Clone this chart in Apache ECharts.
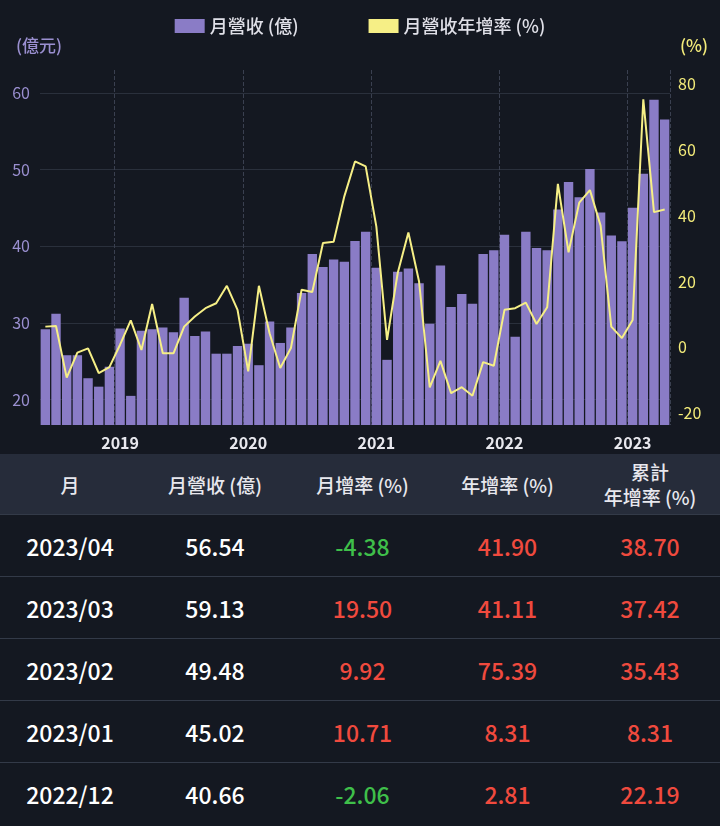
<!DOCTYPE html>
<html><head><meta charset="utf-8">
<script src="https://cdn.jsdelivr.net/npm/echarts@6/dist/echarts.min.js"></script>
<style>
body{margin:0;background:#141821;font-family:"Noto Sans CJK TC","Noto Sans",sans-serif;width:720px;height:826px;overflow:hidden}
#c{width:720px;height:454px}
table{width:720px;border-collapse:collapse;color:#fff;table-layout:fixed}
th{background:#262c3a;color:#e8e8ee;font-weight:500;font-size:19px;height:60px;padding:0;line-height:25px}
td{height:61px;padding:0;font-size:23px;font-weight:500;text-align:center;border-top:1px solid #333a48}
.g{color:#3fbf4a}.r{color:#f04a3e}
</style></head><body>
<div id="c"></div>
<table>
<colgroup><col style="width:140px"><col style="width:150px"><col style="width:145px"><col style="width:145px"><col style="width:140px"></colgroup>
<tr><th>月</th><th>月營收 (億)</th><th>月增率 (%)</th><th>年增率 (%)</th><th>累計<br>年增率 (%)</th></tr>
<tbody id="tb"></tbody>
</table>
<script>
const months = [];
(function(){let y=2018,m=6;for(let i=0;i<59;i++){months.push(y+'/'+String(m).padStart(2,'0'));m++;if(m>12){m=1;y++;}}})();
const revenue = [29.2,31.2,25.8,25.8,22.8,21.7,24.3,29.3,20.5,29.0,29.2,29.4,28.8,33.3,28.3,28.9,26.0,26.0,27.0,27.3,24.5,30.2,27.4,29.4,33.9,39.0,37.3,38.3,38.0,40.7,41.9,37.2,25.2,36.7,37.1,35.2,29.9,37.5,32.1,33.8,32.5,39.0,39.5,41.5,28.2,41.9,39.8,39.5,44.8,48.4,46.4,50.1,44.4,41.4,40.66,45.02,49.48,59.13,56.54];
const yoy = [6.3,6.5,-9.2,-1.6,-0.3,-7.8,-6.0,0.8,8.2,-0.8,13.2,-1.8,-1.8,6.3,9.4,11.9,13.4,18.7,11.4,-7.3,18.7,4.3,-6.3,-0.2,17.5,16.8,31.7,32.1,45.9,56.5,55.0,36.7,2.3,22.6,34.9,20.0,-12.2,-4.1,-13.9,-12.1,-14.7,-4.5,-5.6,11.4,11.9,13.6,7.1,12.2,49.7,28.9,44.0,47.8,37.0,6.3,2.81,8.31,75.39,41.11,41.90];
const leftTicks=[20,30,40,50,60], rightTicks=[-20,0,20,40,60,80];
const tableRows=[['2023/04','56.54','-4.38','41.90','38.70'],['2023/03','59.13','19.50','41.11','37.42'],['2023/02','49.48','9.92','75.39','35.43'],['2023/01','45.02','10.71','8.31','8.31'],['2022/12','40.66','-2.06','2.81','22.19']];
document.getElementById('tb').innerHTML=tableRows.map(r=>'<tr>'+r.map((v,i)=>{let c='';if(i>=2)c=v.startsWith('-')?'g':'r';return '<td class="'+c+'">'+v+'</td>';}).join('')+'</tr>').join('');
const ch=echarts.init(document.getElementById('c'));
ch.setOption({
 backgroundColor:'#141821',
 textStyle:{fontFamily:'Noto Sans CJK TC'},
 legend:{top:12,left:'center',itemWidth:30,itemHeight:14,itemGap:70,textStyle:{color:'#e0e0e8',fontSize:18,fontWeight:500},
  data:[{name:'月營收 (億)',icon:'rect'},{name:'月營收年增率 (%)',icon:'rect'}]},
 grid:{left:40,right:50,top:70,bottom:29},
 xAxis:{type:'category',data:months,axisLine:{show:false},axisTick:{show:false},
  axisLabel:{color:'#e8e8ee',fontSize:16,fontWeight:'bold',margin:10,interval:0,
   formatter:v=>v.endsWith('/01')?v.slice(0,4):''},
  splitLine:{show:true,interval:(i,v)=>v.endsWith('/01'),lineStyle:{color:'#3a4050',type:'dashed'}}},
 yAxis:[
  {type:'value',min:16.7,max:63,name:'(億元)',nameLocation:'end',nameGap:16,nameTextStyle:{color:'#9a8fd0',fontSize:17,fontWeight:500,align:'left',padding:[0,0,0,-24]},
   axisLabel:{color:'#9a8fd0',fontSize:16,customValues:leftTicks,margin:10},axisTick:{show:false,customValues:leftTicks},
   splitLine:{lineStyle:{color:'#2a303c'}}},
  {type:'value',min:-23.6,max:84.3,name:'(%)',nameLocation:'end',nameGap:16,nameTextStyle:{color:'#f4ec7a',fontSize:17,fontWeight:500,align:'right',padding:[0,-38,0,0]},
   axisLabel:{color:'#f4ec7a',fontSize:16,customValues:rightTicks,margin:8},axisTick:{show:false,customValues:rightTicks},
   splitLine:{show:false}}
 ],
 series:[
  {name:'月營收 (億)',type:'bar',data:revenue,barCategoryGap:'12%',itemStyle:{color:'#8a7cc6'}},
  {name:'月營收年增率 (%)',type:'line',yAxisIndex:1,data:yoy,symbol:'none',lineStyle:{color:'#f6ef86',width:2},itemStyle:{color:'#f6ef86'}}
 ]
});
</script></body></html>
